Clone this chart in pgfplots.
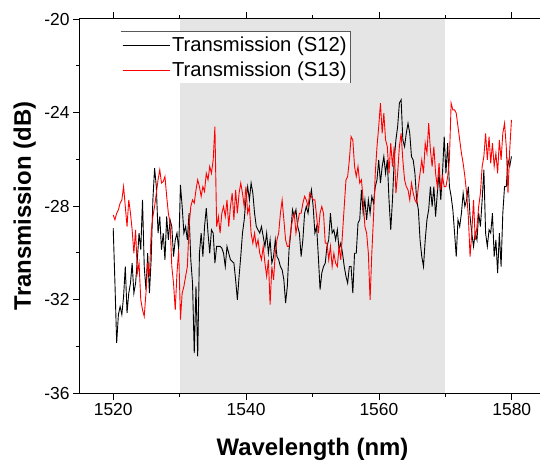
\documentclass[border=0pt]{standalone}
\usepackage{fontspec}
\setmainfont{Liberation Sans}
\usepackage{pgfplots}
\usepackage{pgfplotstable}
\pgfplotsset{compat=1.18}
\pgfplotstableread{
x s12 s13
1520.00 -28.95 -28.38
1520.26 -31.30 -28.59
1520.52 -33.86 -28.31
1520.78 -32.65 -28.16
1521.04 -32.30 -27.88
1521.30 -32.65 -27.74
1521.56 -31.87 -27.17
1521.82 -30.59 -28.02
1522.08 -32.58 -28.88
1522.34 -31.73 -27.74
1522.60 -31.30 -28.31
1522.85 -30.44 -29.02
1523.11 -31.73 -30.02
1523.37 -31.30 -29.02
1523.63 -30.30 -30.87
1523.89 -29.16 -30.44
1524.15 -29.87 -32.01
1524.41 -27.74 -32.44
1524.67 -30.59 -32.72
1524.93 -31.58 -31.73
1525.19 -30.02 -30.44
1525.45 -31.73 -31.01
1525.71 -30.30 -29.16
1525.97 -27.74 -28.45
1526.23 -26.38 -28.02
1526.49 -27.17 -27.45
1526.75 -29.16 -26.88
1527.01 -28.45 -26.45
1527.27 -29.87 -27.02
1527.53 -29.16 -26.95
1527.79 -30.30 -26.74
1528.05 -28.45 -27.59
1528.30 -29.45 -28.31
1528.56 -28.59 -28.73
1528.82 -28.88 -30.59
1529.08 -30.16 -31.30
1529.34 -29.45 -32.44
1529.60 -29.16 -30.87
1529.86 -29.87 -29.87
1530.12 -27.10 -32.86
1530.38 -28.02 -31.73
1530.64 -29.16 -31.44
1530.90 -28.88 -31.01
1531.16 -29.45 -30.59
1531.42 -28.31 -28.88
1531.68 -30.30 -28.02
1531.94 -31.30 -27.74
1532.20 -34.29 -27.88
1532.46 -31.44 -27.31
1532.72 -34.43 -26.88
1532.98 -30.02 -27.17
1533.24 -29.16 -27.59
1533.50 -30.16 -27.17
1533.75 -28.88 -27.38
1534.01 -28.09 -26.60
1534.27 -29.16 -26.88
1534.53 -30.02 -26.31
1534.79 -29.02 -26.60
1535.05 -29.16 -26.03
1535.31 -30.44 -24.60
1535.57 -29.73 -28.88
1535.83 -29.73 -28.45
1536.09 -29.73 -29.16
1536.35 -29.80 -28.31
1536.61 -30.02 -28.02
1536.87 -30.59 -28.45
1537.13 -29.73 -27.74
1537.39 -30.02 -28.88
1537.65 -30.30 -28.02
1537.91 -30.37 -27.45
1538.17 -30.44 -28.59
1538.43 -31.16 -27.31
1538.69 -32.01 -28.31
1538.95 -31.01 -27.45
1539.20 -30.16 -27.02
1539.46 -29.16 -27.45
1539.72 -28.59 -28.02
1539.98 -27.74 -27.17
1540.24 -27.17 -28.31
1540.50 -27.74 -28.02
1540.76 -27.02 -29.16
1541.02 -27.45 -29.59
1541.28 -28.31 -29.16
1541.54 -28.88 -29.73
1541.80 -29.02 -29.45
1542.06 -29.16 -30.02
1542.32 -28.88 -30.30
1542.58 -29.30 -29.73
1542.84 -29.73 -30.44
1543.10 -29.16 -31.01
1543.36 -30.02 -30.30
1543.62 -29.45 -32.22
1543.88 -30.44 -30.59
1544.14 -30.16 -31.16
1544.40 -29.45 -30.02
1544.65 -30.16 -29.45
1544.91 -30.30 -29.16
1545.17 -30.59 -28.31
1545.43 -30.73 -27.74
1545.69 -31.16 -28.59
1545.95 -32.15 -29.45
1546.21 -31.44 -29.73
1546.47 -29.87 -29.73
1546.73 -29.16 -29.02
1546.99 -28.16 -28.59
1547.25 -28.45 -28.31
1547.51 -28.16 -29.16
1547.77 -28.88 -28.73
1548.03 -29.16 -28.31
1548.29 -30.16 -28.31
1548.55 -29.45 -27.88
1548.81 -28.31 -27.59
1549.07 -28.02 -27.74
1549.33 -28.31 -28.02
1549.59 -27.74 -27.45
1549.84 -27.31 -27.59
1550.10 -28.02 -27.74
1550.36 -29.16 -27.74
1550.62 -28.88 -28.45
1550.88 -30.16 -29.16
1551.14 -31.58 -28.31
1551.40 -30.87 -28.02
1551.66 -30.59 -28.31
1551.92 -30.44 -29.59
1552.18 -29.73 -29.59
1552.44 -29.45 -30.30
1552.70 -28.31 -29.73
1552.96 -29.16 -30.59
1553.22 -29.02 -30.02
1553.48 -29.45 -30.44
1553.74 -29.02 -30.59
1554.00 -29.87 -29.73
1554.26 -29.59 -30.30
1554.52 -30.02 -29.16
1554.78 -30.59 -28.02
1555.04 -31.01 -26.88
1555.29 -31.30 -26.74
1555.55 -30.59 -26.03
1555.81 -30.59 -25.03
1556.07 -31.73 -25.17
1556.33 -30.02 -26.31
1556.59 -30.02 -26.74
1556.85 -28.73 -26.31
1557.11 -28.59 -27.02
1557.37 -27.31 -26.88
1557.63 -28.31 -27.74
1557.89 -27.74 -28.88
1558.15 -28.59 -29.16
1558.41 -27.74 -30.02
1558.67 -28.31 -32.01
1558.93 -27.59 -30.02
1559.19 -27.88 -28.45
1559.45 -27.17 -26.60
1559.71 -26.88 -25.46
1559.97 -26.03 -24.60
1560.23 -27.02 -23.60
1560.49 -26.31 -24.89
1560.74 -25.88 -24.03
1561.00 -26.60 -25.17
1561.26 -26.03 -25.46
1561.52 -27.74 -26.60
1561.78 -29.02 -25.31
1562.04 -27.74 -26.31
1562.30 -26.03 -25.46
1562.56 -25.17 -27.45
1562.82 -24.60 -26.60
1563.08 -23.60 -25.46
1563.34 -23.46 -24.89
1563.60 -25.17 -26.03
1563.86 -25.46 -26.88
1564.12 -24.89 -27.17
1564.38 -24.46 -27.31
1564.64 -24.89 -27.74
1564.90 -25.88 -27.02
1565.16 -26.03 -27.45
1565.42 -26.60 -27.74
1565.68 -27.74 -27.88
1565.94 -28.16 -27.17
1566.19 -29.45 -26.60
1566.45 -30.16 -26.03
1566.71 -30.59 -26.60
1566.97 -29.45 -25.31
1567.23 -28.59 -25.74
1567.49 -28.16 -24.46
1567.75 -27.17 -25.60
1568.01 -28.02 -26.31
1568.27 -27.17 -25.46
1568.53 -28.45 -26.60
1568.79 -27.45 -27.17
1569.05 -26.60 -26.17
1569.31 -27.74 -27.31
1569.57 -26.60 -26.74
1569.83 -25.03 -27.17
1570.09 -26.60 -27.17
1570.35 -25.31 -26.74
1570.61 -27.17 -26.03
1570.87 -27.59 -23.60
1571.13 -28.16 -23.89
1571.39 -29.16 -23.89
1571.64 -30.16 -24.03
1571.90 -28.59 -24.60
1572.16 -28.88 -25.17
1572.42 -28.31 -25.74
1572.68 -27.45 -26.17
1572.94 -28.02 -26.74
1573.20 -27.74 -27.45
1573.46 -27.17 -28.45
1573.72 -28.45 -30.16
1573.98 -29.16 -29.16
1574.24 -29.73 -27.74
1574.50 -29.16 -29.45
1574.76 -29.45 -28.88
1575.02 -28.31 -28.02
1575.28 -28.88 -27.45
1575.54 -27.74 -26.31
1575.80 -26.45 -25.88
1576.06 -29.16 -24.89
1576.32 -29.73 -26.03
1576.58 -29.02 -25.03
1576.83 -29.16 -26.17
1577.09 -28.31 -25.31
1577.35 -30.16 -26.31
1577.61 -29.45 -25.74
1577.87 -30.87 -26.60
1578.13 -29.16 -25.17
1578.39 -30.59 -26.03
1578.65 -28.31 -24.89
1578.91 -27.17 -24.46
1579.17 -27.17 -25.46
1579.43 -26.03 -27.45
1579.69 -26.31 -25.60
1579.95 -25.88 -24.32
}\datatable
\begin{document}
\begin{tikzpicture}
\begin{axis}[
  scale only axis,
  width=465bp, height=374bp,
  xmin=1515, xmax=1585,
  ymin=-36, ymax=-20,
  xtick={1520,1540,1560,1580},
  xticklabels={1520,1540,1560,1580},
  minor xtick={1530,1550,1570},
  ytick={-36,-32,-28,-24,-20},
  yticklabels={-36,-32,-28,-24,-20},
  minor ytick={-34,-30,-26,-22},
  tick align=outside,
  major tick length=7bp,
  minor tick length=4bp,
  every tick/.style={black, line width=0.8bp},
  axis line style={line width=1bp},
  ytick pos=left,
  axis on top,
  tick label style={font=\fontsize{17.5}{20}\selectfont},
  xlabel={\bfseries Wavelength (nm)},
  ylabel={\bfseries Transmission (dB)},
  label style={font=\fontsize{24}{28}\selectfont},
  xlabel style={at={(axis description cs:0.5,0)}, anchor=base, yshift=-62bp},
  ylabel style={at={(axis description cs:-0.1054,0.5)}, anchor=base, rotate=0},
  legend style={at={(axis description cs:0.088,0.966)}, anchor=north west,
    draw=none, fill=white, font=\fontsize{20.3}{24}\selectfont,
    inner xsep=1bp, inner ysep=3bp, row sep=5bp},
  legend cell align=left,
  legend image code/.code={\draw[#1] (0bp,0bp) -- (45bp,0bp); \path (0bp,0bp) -- (47bp,0bp);},
]
\addplot [fill=gray!20, draw=none, forget plot] coordinates {(1530,-36) (1530,-20) (1570,-20) (1570,-36)} -- cycle;
\addplot [black, line width=0.9bp] table [x=x, y=s12] {\datatable};
\addlegendentry{Transmission (S12)}
\addplot [red, line width=0.9bp] table [x=x, y=s13] {\datatable};
\addlegendentry{Transmission (S13)}
\coordinate (lgTL) at (axis description cs:0.088,0.966);
\coordinate (lgTR) at (axis description cs:0.582,0.966);
\coordinate (lgBR) at (axis description cs:0.582,0.828);
\end{axis}
\draw[gray!70!black, line width=0.8bp] (lgTL) -- (lgTR) -- (lgBR);
\pgfresetboundingbox
\useasboundingbox (-80bp,-71bp) rectangle (460bp,393bp);
\end{tikzpicture}
\end{document}
